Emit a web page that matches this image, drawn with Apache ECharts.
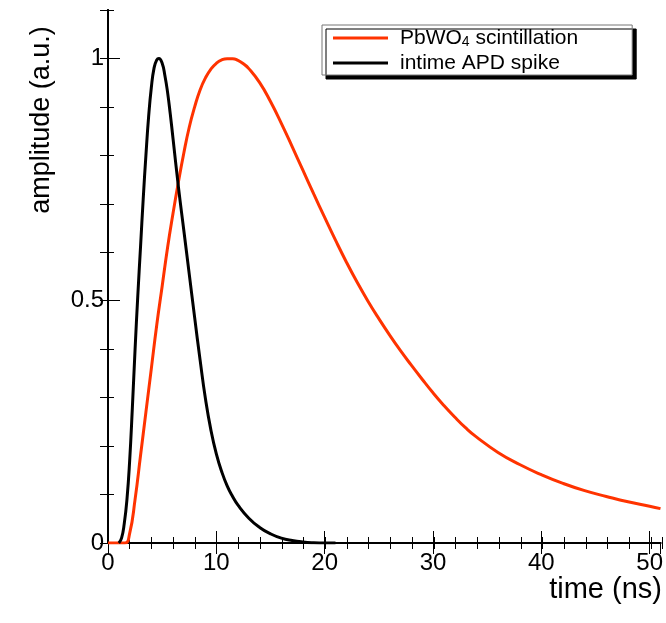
<!DOCTYPE html>
<html>
<head>
<meta charset="utf-8">
<script src="https://cdn.jsdelivr.net/npm/echarts@6/dist/echarts.min.js"></script>
<style>
    html, body { margin: 0; padding: 0; background: #fff; }
    #chart { width: 666px; height: 623px; }
</style>
</head>
<body>
<div id="chart"></div>
<script>
// pulse shapes, time in ns, amplitude normalised to 1
const apdTime = [1.0, 1.25, 1.5, 1.75, 2.0, 2.25, 2.5, 2.75, 3.0, 3.25, 3.5, 3.75, 4.0, 4.25, 4.5, 4.7, 5.0, 5.25, 5.5, 5.75,
    6.0, 6.5, 7.0, 7.5, 8.0, 8.5, 9.0, 9.5, 10, 10.5, 11, 11.5, 12, 13, 14, 15, 16, 17, 18, 19, 20, 21];
const apdAmp = [0, 0.01, 0.04, 0.09, 0.17, 0.28, 0.40, 0.51, 0.61, 0.71, 0.80, 0.88, 0.94, 0.98, 0.997, 1.0, 0.99, 0.965, 0.93, 0.885,
    0.835, 0.735, 0.645, 0.555, 0.465, 0.378, 0.297, 0.233, 0.184, 0.147, 0.118, 0.096, 0.078, 0.051, 0.032, 0.019, 0.010, 0.005, 0.002, 0.0005, 0, 0];

const pbwoTime = [0, 1.55, 2.0, 2.5, 3.0, 3.5, 4.0, 4.5, 5.0, 5.5, 6.0, 6.5, 7.0, 7.5, 8.0, 8.5, 9.0, 9.5, 10, 10.5,
    11, 11.5, 12, 12.5, 13, 14, 15, 16, 17, 18, 19, 20, 21, 22, 23, 24, 25, 26, 27, 28,
    29, 30, 31, 32, 33, 34, 36, 38, 40, 42, 44, 46, 48, 50, 51];
const pbwoAmp = [0, 0, 0.02, 0.09, 0.18, 0.27, 0.36, 0.45, 0.53, 0.61, 0.68, 0.745, 0.805, 0.858, 0.90, 0.935, 0.96, 0.978, 0.99, 0.997,
    0.9995, 0.9995, 0.996, 0.989, 0.979, 0.950, 0.911, 0.866, 0.818, 0.769, 0.72, 0.672, 0.625, 0.58, 0.538, 0.499, 0.463, 0.429, 0.397, 0.367,
    0.338, 0.310, 0.284, 0.26, 0.238, 0.219, 0.187, 0.162, 0.141, 0.123, 0.108, 0.096, 0.085, 0.076, 0.071];

const seriesNames = ['PbWO4 scintillation', 'intime APD spike'];
const xRange = [0, 51];
const yRange = [0, 1.1];

const FONT = '"Liberation Sans", Arial, Helvetica, sans-serif';

function pairs(xs, ys) {
    return xs.map((x, i) => [x, ys[i]]);
}

const chart = echarts.init(document.getElementById('chart'));

const frameLine = {show: true, lineStyle: {color: '#000', width: 2}};
const noLabel = {show: false};

// grid 0 carries the frame, major ticks and labels; grid 1 (same rect) only the minor ticks
function xAxis(grid, pos, interval, tickLen, withLabel) {
    return {
        type: 'value', gridIndex: grid, position: pos,
        min: xRange[0], max: xRange[1], interval: interval,
        axisLine: grid === 0 ? frameLine : {show: false},
        axisTick: {show: true, inside: true, length: tickLen, lineStyle: {color: '#000', width: 1}},
        axisLabel: withLabel ? {
            show: true, color: '#000', fontSize: 24, fontFamily: FONT, margin: 8, showMaxLabel: false
        } : noLabel,
        splitLine: {show: false}
    };
}

function yAxis(grid, pos, interval, tickLen, withLabel) {
    return {
        type: 'value', gridIndex: grid, position: pos,
        min: yRange[0], max: yRange[1], interval: interval,
        axisLine: grid === 0 ? frameLine : {show: false},
        axisTick: {show: tickLen > 0, inside: true, length: tickLen, lineStyle: {color: '#000', width: 1}},
        axisLabel: withLabel ? {
            show: true, color: '#000', fontSize: 24, fontFamily: FONT, margin: 4, showMaxLabel: false
        } : noLabel,
        splitLine: {show: false}
    };
}

const plotRect = {left: 108, top: 10, right: 4, bottom: 80};

const option = {
    animation: false,
    backgroundColor: '#fff',
    grid: [Object.assign({}, plotRect), Object.assign({}, plotRect)],
    xAxis: [
        xAxis(0, 'bottom', 10, 12, true),
        xAxis(0, 'top', 10, 11, false),
        xAxis(1, 'bottom', 2, 6, false),
        xAxis(1, 'top', 2, 6, false)
    ],
    yAxis: [
        yAxis(0, 'left', 0.5, 12, true),
        yAxis(0, 'right', 0.1, 8, false),
        yAxis(1, 'left', 0.1, 6, false),
        yAxis(1, 'right', 0.1, 0, false)
    ],
    legend: {
        left: 322,
        top: 25,
        orient: 'vertical',
        padding: [2, 54, 1, 11],
        itemGap: 3,
        itemWidth: 55,
        itemHeight: 3,
        icon: 'rect',
        backgroundColor: '#fff',
        borderColor: '#777',
        borderWidth: 1,
        shadowColor: '#000',
        shadowBlur: 0,
        shadowOffsetX: 4,
        shadowOffsetY: 4,
        data: seriesNames,
        formatter: name => name === seriesNames[0] ? 'PbWO{sub|4} scintillation' : name,
        textStyle: {
            color: '#000', fontSize: 21, fontFamily: FONT, lineHeight: 22, padding: [0, 0, 0, 7],
            rich: {
                sub: {fontSize: 14, fontFamily: FONT, color: '#000', verticalAlign: 'bottom', padding: [10, 0, 0, 0]}
            }
        }
    },
    graphic: [
        {
            type: 'text', x: 42, y: 120, rotation: Math.PI / 2,
            style: {text: 'amplitude (a.u.)', font: '27px ' + FONT, fill: '#000', align: 'center', verticalAlign: 'middle'}
        },
        {
            type: 'text', x: 662, y: 590,
            style: {text: 'time (ns)', font: '29px ' + FONT, fill: '#000', align: 'right', verticalAlign: 'middle'}
        }
    ],
    series: [
        {
            name: seriesNames[0],
            type: 'line',
            xAxisIndex: 0, yAxisIndex: 0,
            data: pairs(pbwoTime, pbwoAmp),
            showSymbol: false,
            smooth: 0.5,
            color: '#ff3300',
            lineStyle: {color: '#ff3300', width: 3},
            clip: true
        },
        {
            name: seriesNames[1],
            type: 'line',
            xAxisIndex: 0, yAxisIndex: 0,
            data: pairs(apdTime, apdAmp),
            showSymbol: false,
            smooth: 0.5,
            color: '#000',
            lineStyle: {color: '#000', width: 3},
            clip: true
        }
    ]
};

chart.setOption(option);
</script>
</body>
</html>
